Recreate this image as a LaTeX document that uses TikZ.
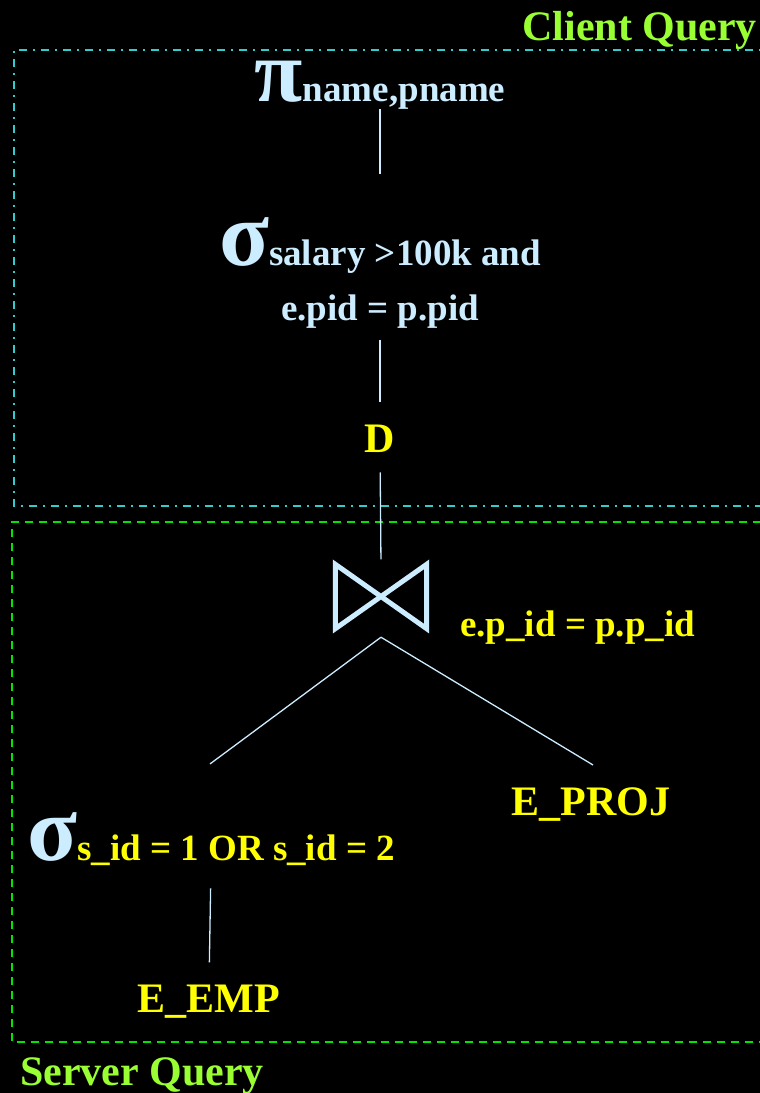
\documentclass[tikz,border=0pt]{standalone}
\usepackage{fontspec}
\setmainfont{Liberation Serif}
\definecolor{lblue}{RGB}{204,236,255}
\definecolor{yel}{RGB}{255,255,0}
\definecolor{lgreen}{RGB}{153,255,51}
\definecolor{boxcyan}{RGB}{51,204,204}
\definecolor{boxgreen}{RGB}{0,230,0}
\newcommand\mysig{{\fontsize{92}{92}\selectfont σ}}
\newcommand\mypi{{\fontsize{88}{88}\selectfont π}}
\begin{document}
\begin{tikzpicture}[x=1pt,y=-1pt,
  big/.style={font=\bfseries\fontsize{42}{42}\selectfont, inner sep=0pt},
  small/.style={font=\bfseries\fontsize{37}{55}\selectfont, inner sep=0pt},
  conn/.style={draw=lblue, line width=1.3pt},
  clientbox/.style={draw=boxcyan, line width=2pt, dash pattern=on 8pt off 6pt on 2pt off 6pt},
  serverbox/.style={draw=boxgreen, line width=2pt, dash pattern=on 8pt off 6pt}]
\fill[black] (0,0) rectangle (760,1093);
\useasboundingbox (0,0) rectangle (760,1093);
% boxes
\draw[clientbox] (775,50) -- (14,50) -- (14,506) -- (775,506);
\draw[serverbox] (775,522) -- (12,522) -- (12,1042) -- (775,1042);
\node[big, text=lgreen, anchor=base east] (client) at (757,40) {Client Query};
\node[big, text=lgreen, anchor=base west] (server) at (20,1085) {Server Query};
% nodes
\node[small, text=lblue, anchor=base] (pi) at (380,101) {\mypi{}name,pname};
\node[small, text=lblue, anchor=base, align=center] (sig) at (380,320) {\mysig{}salary >100k and\\e.pid = p.pid};
\node[big, text=yel, anchor=base] (d) at (380,452) {D};
\node[minimum width=91pt, minimum height=64pt, inner sep=0pt] (join) at (381,596.5) {};
\draw[lblue, line width=5pt, line join=miter] (join.north west) -- (join.south east) -- (join.north east) -- (join.south west) -- cycle;
\coordinate (jb) at ([yshift=-8.5pt]join.south);
\node[small, text=yel, anchor=base west] (cond) at (460,636) {e.p\_id = p.p\_id};
\node[big, text=yel, anchor=base] (proj) at (591,815) {E\_PROJ};
\node[small, text=yel, anchor=base] (sel) at (211,860) {\textcolor{lblue}{\mysig}s\_id = 1 OR s\_id = 2};
\node[big, text=yel, anchor=base] (emp) at (209,1012) {E\_EMP};
\coordinate (lend) at ([xshift=-1pt,yshift=48pt]sel.north);
\coordinate (rend) at ([xshift=2pt,yshift=22pt]proj.north);
% connectors
\draw[conn, shorten >=43pt] (pi.south) -- (sig.north);
\draw[conn, shorten <=12pt, shorten >=22pt] (sig.south) -- (d.north);
\draw[conn, shorten <=20pt, shorten >=5pt] (d.south) -- (join.north);
\draw[conn] (jb) -- (lend);
\draw[conn] (jb) -- (rend);
\draw[conn, shorten <=23pt, shorten >=22pt] (sel.south) -- (emp.north);
\end{tikzpicture}
\end{document}
